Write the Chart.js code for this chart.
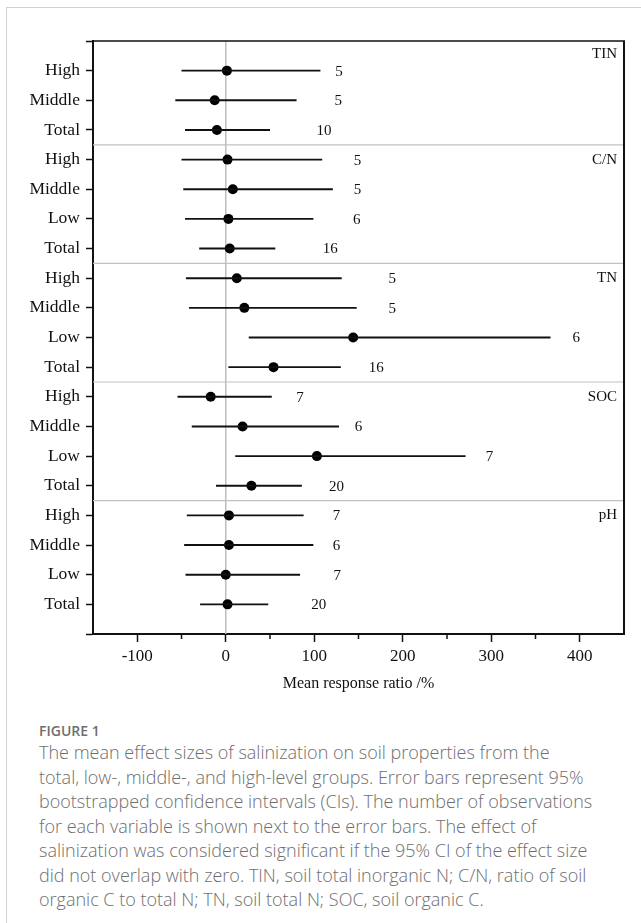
<!DOCTYPE html>
<html><head><meta charset="utf-8">
<script src="https://cdn.jsdelivr.net/npm/chart.js@4.4.0/dist/chart.umd.min.js"></script>
<style>
html,body{margin:0;padding:0;background:#fff;width:641px;height:923px;overflow:hidden;position:relative;}
#card{position:absolute;left:6px;top:7px;width:700px;height:1000px;border-left:1px solid #d2d2d2;border-top:1px solid #d2d2d2;}
#c{position:absolute;left:0;top:0;}
#fig{position:absolute;left:39px;top:722px;font:600 14px "Open Sans",sans-serif;color:#6e6e6e;line-height:18px;}
#cap{position:absolute;left:39px;top:740px;font:300 18px "Open Sans",sans-serif;color:#6e6e6e;line-height:24.5px;white-space:nowrap;}
</style></head>
<body>
<div id="card"></div>
<canvas id="c" width="641" height="711"></canvas>
<div id="fig">FIGURE 1</div>
<div id="cap">The mean effect sizes of salinization on soil properties from the<br>total, low-, middle-, and high-level groups. Error bars represent 95%<br>bootstrapped confidence intervals (CIs). The number of observations<br>for each variable is shown next to the error bars. The effect of<br>salinization was considered significant if the 95% CI of the effect size<br>did not overlap with zero. TIN, soil total inorganic N; C/N, ratio of soil<br>organic C to total N; TN, soil total N; SOC, soil organic C.</div>
<script>
// ---- data ----
const variables = ['TIN', 'C/N', 'TN', 'SOC', 'pH'];
const groupsPerVariable = [3, 4, 4, 4, 4];
const rowLabels = ['High','Middle','Total',
                   'High','Middle','Low','Total',
                   'High','Middle','Low','Total',
                   'High','Middle','Low','Total',
                   'High','Middle','Low','Total'];
const meanRatio = [1.3, -12.5, -10,
                   2, 8, 3, 4.5,
                   12.5, 21, 144, 54,
                   -17, 19, 103, 29,
                   3.6, 3.6, 0, 2];
const ciLower   = [-50, -57, -46,
                   -50, -48, -46, -30,
                   -45, -41.5, 26, 3,
                   -54.5, -38.4, 10.7, -11,
                   -44, -47, -45.5, -29];
const ciUpper   = [107, 80, 50,
                   109, 121, 99, 56,
                   131, 148, 367, 130,
                   52, 128, 271, 86,
                   88, 99, 84, 48];
const nObs      = [5, 5, 10,
                   5, 5, 6, 16,
                   5, 5, 6, 16,
                   7, 6, 7, 20,
                   7, 6, 7, 20];
// where each count is written, in axis units (%)
const countLabelAt = [128, 127, 111,
                      149, 149, 148, 118,
                      188, 188, 396, 170,
                      84, 150, 298, 125,
                      125, 125, 126, 105];
const xMajorTicks = [-100, 0, 100, 200, 300, 400];
const xMinorTicks = [-50, 50, 150, 250, 350];
const xTitle = 'Mean response ratio /%';

// ---- derived ----
const SERIF = '"Liberation Serif", "Times New Roman", serif';
const rows = rowLabels.map((_, i) => i + 1);
const yTickRows = [0, ...rows, rows.length + 1];
const firstRows = [];
const separatorRows = [];
{ let acc = 0; groupsPerVariable.forEach((g, k) => { firstRows.push(acc + 1); acc += g; if (k < groupsPerVariable.length - 1) separatorRows.push(acc + 0.5); }); }

const barSets = rows.map((r, i) => ({
  type: 'scatter', showLine: true, data: [{x: ciLower[i], y: r}, {x: ciUpper[i], y: r}],
  borderColor: '#111', borderWidth: 1.9, pointRadius: 0, fill: false
}));
const meanSet = {
  type: 'scatter', data: rows.map((r, i) => ({x: meanRatio[i], y: r})),
  pointRadius: 5, pointBackgroundColor: '#000', pointBorderWidth: 0, showLine: false
};

const extras = {
  id: 'extras',
  beforeDatasetsDraw(chart) {
    const {ctx, chartArea: a, scales: {x, y}} = chart;
    ctx.save();
    const x0 = x.getPixelForValue(0);
    ctx.strokeStyle = '#bdbdbd'; ctx.lineWidth = 1.5;
    ctx.beginPath(); ctx.moveTo(x0, a.top); ctx.lineTo(x0, a.bottom); ctx.stroke();
    ctx.strokeStyle = '#c2c2c2'; ctx.lineWidth = 1.2;
    separatorRows.forEach(s => {
      const py = y.getPixelForValue(s);
      ctx.beginPath(); ctx.moveTo(a.left, py); ctx.lineTo(a.right, py); ctx.stroke();
    });
    ctx.restore();
  },
  afterDraw(chart) {
    const {ctx, chartArea: a, scales: {x, y}} = chart;
    ctx.save();
    ctx.strokeStyle = '#111';
    ctx.lineWidth = 1.5;
    ctx.beginPath(); ctx.moveTo(a.left, a.top); ctx.lineTo(a.right + 1, a.top); ctx.stroke();
    ctx.lineWidth = 2;
    ctx.beginPath(); ctx.moveTo(a.right, a.top); ctx.lineTo(a.right, a.bottom); ctx.stroke();
    ctx.lineWidth = 1.5;
    xMinorTicks.forEach(v => {
      const px = x.getPixelForValue(v);
      ctx.beginPath(); ctx.moveTo(px, a.bottom); ctx.lineTo(px, a.bottom + 5); ctx.stroke();
    });
    ctx.fillStyle = '#111';
    ctx.font = '15px ' + SERIF;
    ctx.textAlign = 'center'; ctx.textBaseline = 'middle';
    rows.forEach((r, i) => {
      ctx.fillText(String(nObs[i]), x.getPixelForValue(countLabelAt[i]), y.getPixelForValue(r) + 1);
    });
    ctx.textAlign = 'right';
    variables.forEach((v, k) => {
      const ry = k === 0 ? firstRows[k] - 0.55 : firstRows[k];
      ctx.fillText(v, a.right - 7, y.getPixelForValue(ry));
    });
    ctx.restore();
  }
};

new Chart(document.getElementById('c'), {
  type: 'scatter',
  data: {datasets: [...barSets, meanSet]},
  options: {
    responsive: false, animation: false, events: [],
    layout: {padding: {top: 41, right: 17, left: 0, bottom: 0}},
    plugins: {legend: {display: false}, tooltip: {enabled: false}},
    scales: {
      x: {
        type: 'linear', min: -150, max: 450,
        afterBuildTicks: s => { s.ticks = xMajorTicks.map(v => ({value: v})); },
        afterFit: s => { s.height = 77; },
        grid: {drawOnChartArea: false, drawTicks: true, tickLength: 8, tickWidth: 1.5, tickColor: '#111'},
        border: {display: true, color: '#111', width: 2},
        ticks: {font: {family: SERIF, size: 17}, color: '#111', padding: 4, maxRotation: 0, autoSkip: false},
        title: {display: true, text: xTitle, font: {family: SERIF, size: 16}, color: '#111', padding: {top: 4, bottom: 18}}
      },
      y: {
        type: 'linear', min: 0, max: rows.length + 1, reverse: true,
        afterBuildTicks: s => { s.ticks = yTickRows.map(v => ({value: v})); },
        afterFit: s => { s.width = 93; },
        grid: {drawOnChartArea: false, drawTicks: true, tickLength: 7, tickWidth: 1.5, tickColor: '#111'},
        border: {display: true, color: '#111', width: 2},
        ticks: {font: {family: SERIF, size: 17.5}, color: '#111', padding: 6, autoSkip: false,
                callback: v => rowLabels[v - 1] ?? ''}
      }
    }
  },
  plugins: [extras]
});
</script>
</body></html>
